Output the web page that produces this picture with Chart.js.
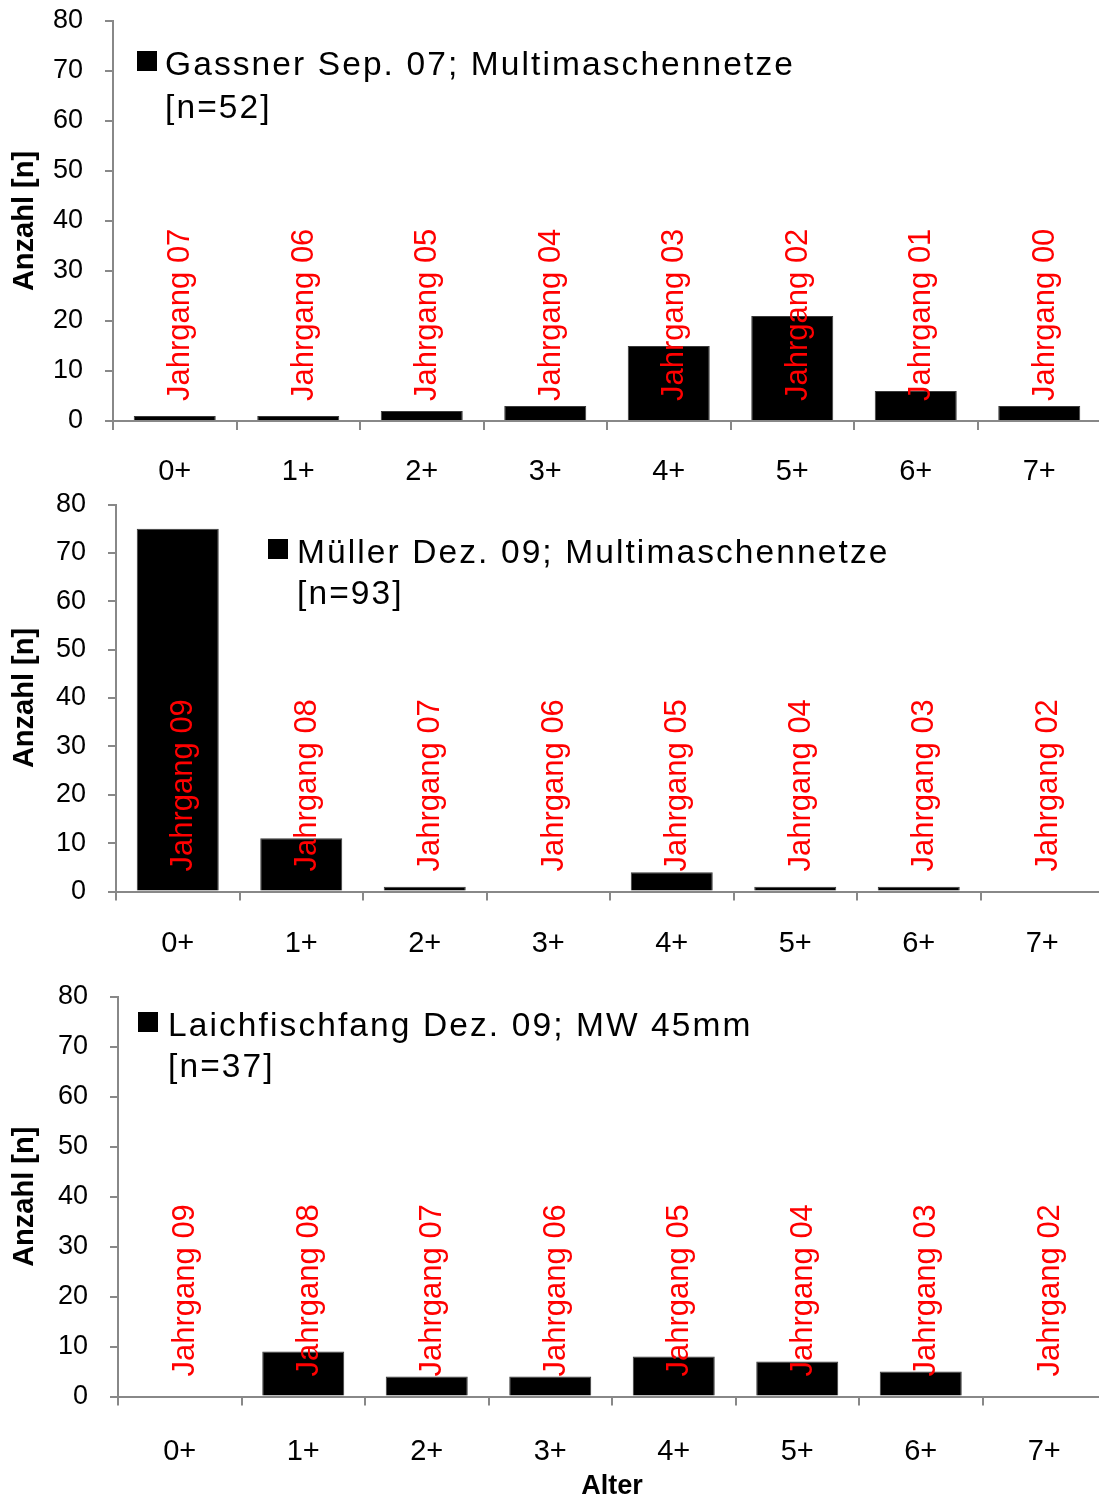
<!DOCTYPE html>
<html>
<head>
<meta charset="utf-8">
<script src="https://cdn.jsdelivr.net/npm/chart.js@4.4.1/dist/chart.umd.min.js"></script>
<style>
  html, body { margin: 0; padding: 0; background: #fff; }
  #wrap { position: relative; width: 1099px; height: 1497px; overflow: hidden; }
  .pane { position: absolute; left: 0; width: 1110px; }
  .pane canvas { display: block; }
</style>
</head>
<body>
<div id="wrap">
  <div class="pane" id="p1" style="top:0;height:480px"><canvas id="c1"></canvas></div>
  <div class="pane" id="p2" style="top:480px;height:480px"><canvas id="c2"></canvas></div>
  <div class="pane" id="p3" style="top:960px;height:537px"><canvas id="c3"></canvas></div>
</div>
<script>
// ---------- data ----------
const categories = ['0+', '1+', '2+', '3+', '4+', '5+', '6+', '7+'];
const gassnerValues = [1, 1, 2, 3, 15, 21, 6, 3];
const muellerValues = [75, 11, 1, 0, 4, 1, 1, 0];
const laichValues = [0, 9, 4, 4, 8, 7, 5, 0];
const jahrgangGassner = ['Jahrgang 07', 'Jahrgang 06', 'Jahrgang 05', 'Jahrgang 04', 'Jahrgang 03', 'Jahrgang 02', 'Jahrgang 01', 'Jahrgang 00'];
const jahrgangMueller = ['Jahrgang 09', 'Jahrgang 08', 'Jahrgang 07', 'Jahrgang 06', 'Jahrgang 05', 'Jahrgang 04', 'Jahrgang 03', 'Jahrgang 02'];
const jahrgangLaich = ['Jahrgang 09', 'Jahrgang 08', 'Jahrgang 07', 'Jahrgang 06', 'Jahrgang 05', 'Jahrgang 04', 'Jahrgang 03', 'Jahrgang 02'];
const legendGassner = ['Gassner Sep. 07; Multimaschennetze', '[n=52]'];
const legendMueller = ['Müller Dez. 09; Multimaschennetze', '[n=93]'];
const legendLaich = ['Laichfischfang Dez. 09; MW 45mm', '[n=37]'];
const yMin = 0, yMax = 80, yStep = 10;
const yTitle = 'Anzahl [n]';
const xTitle = 'Alter';

const FONT = "'Liberation Sans', Arial, sans-serif";
const AXIS = '#888888';

// red rotated year-class labels
const yearLabelPlugin = {
  id: 'yearLabels',
  afterDatasetsDraw(chart, args, opts) {
    const ctx = chart.ctx;
    const xs = chart.scales.x, ys = chart.scales.y;
    const base = ys.getPixelForValue(0);
    ctx.save();
    ctx.fillStyle = '#ff0000';
    ctx.font = '31px ' + FONT;
    ctx.textAlign = 'left';
    ctx.textBaseline = 'alphabetic';
    opts.labels.forEach((t, i) => {
      const x = xs.getPixelForValue(i);
      ctx.save();
      ctx.translate(x + 14.5, base - 20);
      ctx.rotate(-Math.PI / 2);
      ctx.fillText(t, 0, 0);
      ctx.restore();
    });
    ctx.restore();
  }
};

// legend: black square + two text lines
const boxLegendPlugin = {
  id: 'boxLegend',
  afterDraw(chart, args, opts) {
    const ctx = chart.ctx;
    ctx.save();
    ctx.fillStyle = '#000';
    ctx.fillRect(opts.boxX, opts.boxY, 20, 20);
    ctx.font = '33.5px ' + FONT;
    ctx.textAlign = 'left';
    ctx.textBaseline = 'alphabetic';
    if ('letterSpacing' in ctx) ctx.letterSpacing = opts.spacing + 'px';
    ctx.fillText(opts.lines[0], opts.textX, opts.boxY + 24);
    ctx.fillText(opts.lines[1], opts.textX, opts.boxY + 24 + opts.lineGap);
    ctx.restore();
  }
};

function makeChart(id, values, years, legendLines, cfg) {
  const el = document.getElementById(id);
  return new Chart(el, {
    type: 'bar',
    data: {
      labels: categories,
      datasets: [{
        data: values,
        backgroundColor: '#000000',
        borderColor: '#3a3a3a',
        borderWidth: 1,
        categoryPercentage: 1,
        barPercentage: 0.664
      }]
    },
    options: {
      responsive: true,
      maintainAspectRatio: false,
      animation: false,
      devicePixelRatio: 1,
      layout: { padding: { top: cfg.top, right: cfg.right, left: 0, bottom: 0 } },
      plugins: {
        legend: { display: false },
        tooltip: { enabled: false },
        yearLabels: { labels: years },
        boxLegend: Object.assign({ lines: legendLines }, cfg.legend)
      },
      scales: {
        x: {
          type: 'category',
          offset: true,
          afterFit(s) { s.height = cfg.xHeight; s.paddingLeft = 0; s.paddingRight = 0; },
          grid: { display: true, offset: true, drawOnChartArea: false, drawTicks: true, tickLength: 9, color: AXIS, lineWidth: 2 },
          border: { display: true, color: AXIS, width: 2 },
          ticks: { color: '#000', font: { family: FONT, size: 29 }, padding: cfg.xPad, maxRotation: 0, autoSkip: false },
          title: cfg.showXTitle ? { display: true, text: xTitle, color: '#000', font: { family: FONT, size: 27, weight: 'bold', lineHeight: 0.8 }, padding: { top: 0, bottom: 0 } } : { display: false }
        },
        y: {
          min: yMin, max: yMax,
          afterFit(s) { s.width = cfg.yWidth; s.paddingTop = 0; s.paddingBottom = 0; },
          grid: { display: true, drawOnChartArea: false, drawTicks: true, tickLength: 8, color: AXIS, lineWidth: 2 },
          border: { display: true, color: AXIS, width: 2 },
          ticks: { stepSize: yStep, color: '#000', font: { family: FONT, size: 27 }, padding: 22 },
          title: { display: true, text: yTitle, color: '#000', font: { family: FONT, size: 29, weight: 'bold', lineHeight: 1.2 }, padding: { top: 7.5, bottom: 0 } }
        }
      }
    },
    plugins: [yearLabelPlugin, boxLegendPlugin]
  });
}

makeChart('c1', gassnerValues, jahrgangGassner, legendGassner, {
  top: 21, right: 9, yWidth: 113, xHeight: 59, xPad: 25, showXTitle: false,
  legend: { boxX: 137, boxY: 51, textX: 165, lineGap: 43, spacing: 2.1 }
});
makeChart('c2', muellerValues, jahrgangMueller, legendMueller, {
  top: 24.5, right: 6, yWidth: 116, xHeight: 68.5, xPad: 26, showXTitle: false,
  legend: { boxX: 268, boxY: 59, textX: 297, lineGap: 41, spacing: 2.1 }
});
makeChart('c3', laichValues, jahrgangLaich, legendLaich, {
  top: 37, right: 4, yWidth: 118, xHeight: 100.5, xPad: 29, showXTitle: true,
  legend: { boxX: 138, boxY: 52, textX: 168, lineGap: 41, spacing: 2.1 }
});
</script>
</body>
</html>
